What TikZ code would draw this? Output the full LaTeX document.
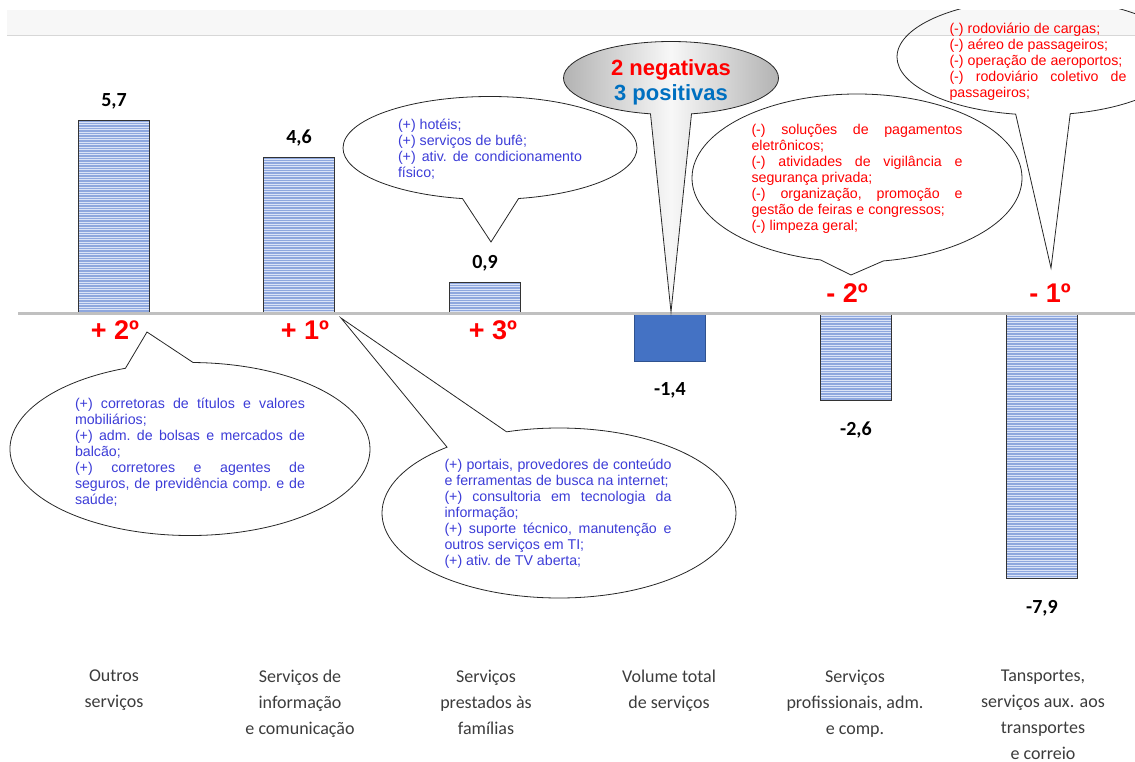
\documentclass[tikz,border=0pt]{standalone}
\usepackage{fontspec}
\setmainfont{Liberation Sans}
\newfontfamily\calibri{Carlito}
\usetikzlibrary{positioning,shapes.callouts}

\definecolor{barfill}{RGB}{142,167,222}
\definecolor{barline}{RGB}{218,227,247}
\definecolor{totalfill}{RGB}{68,114,196}
\definecolor{totaledge}{RGB}{47,82,143}
\definecolor{axisgray}{RGB}{192,192,192}
\definecolor{bandgray}{RGB}{247,247,247}
\definecolor{bandline}{RGB}{215,215,215}
\definecolor{txtblue}{RGB}{60,60,215}
\definecolor{posblue}{RGB}{0,112,192}
\definecolor{labelgray}{RGB}{60,60,60}

\begin{document}
\begin{tikzpicture}
      [x=1pt,y=-1pt,every node/.style={inner sep=2pt},
       bar/.style={draw=black!80,line width=0.7pt,minimum width=71pt,inner sep=0pt,fill=barfill,
         path picture={\foreach \k in {1.5,4,...,270}
           \draw[barline,line width=0.7pt]
             ([yshift=-\k pt]path picture bounding box.north west) --
             ([yshift=-\k pt]path picture bounding box.north east);}},
       totalbar/.style={draw=totaledge,line width=0.7pt,fill=totalfill,minimum width=71pt,inner sep=0pt},
       bubble/.style={ellipse callout,draw=black!85,line width=0.8pt,inner sep=0pt,
         outer sep=0pt,callout pointer arc=22}]

      \tikzstyle{val} = [font=\calibri\bfseries\fontsize{20}{24}\selectfont]
      \tikzstyle{rank} = [font=\bfseries\fontsize{27}{30}\selectfont,text=red]
      \tikzstyle{cat} = [anchor=north,align=center,text=labelgray,inner sep=1pt,
                         font=\calibri\fontsize{18}{26}\selectfont]
      \tikzstyle{note} = [align=justify,font=\fontsize{14.2}{16}\selectfont,
                          execute at begin node={\frenchspacing\tolerance=10000 \hyphenpenalty=10000 }]
      \tikzstyle{plus} = [note,text=txtblue]
      \tikzstyle{minus} = [note,text=red]

      \useasboundingbox (0,0) rectangle (1135,762);

      \fill[bandgray] (7,10) rectangle (1135,35);
      \draw[bandline] (7,35) -- (1135,35);

      \node[bar,anchor=south,minimum height=192pt] (outros)   at (114,313) {};
      \node[bar,anchor=south,minimum height=155pt] (info)     at (299,313) {};
      \node[bar,anchor=south,minimum height=30pt]  (familias) at (485,313) {};
      \node[totalbar,anchor=north,minimum height=48pt] (total) at (670,313) {};
      \node[bar,anchor=north,minimum height=87pt]  (prof)     at (856,313) {};
      \node[bar,anchor=north,minimum height=265pt] (transp)   at (1042,313) {};

      \coordinate (axisL) at (18,313);
      \coordinate (axisR) at (1135,313);
      \draw[axisgray,line width=3pt] (axisL) -- (axisR);

      \node[val,above=9pt of outros]   (v-outros)   {5,7};
      \node[val,above=9pt of info]     (v-info)     {4,6};
      \node[val,above=9pt of familias] (v-familias) {0,9};
      \node[val,below=19pt of total]   (v-total)    {-1,4};
      \node[val,below=19pt of prof]    (v-prof)     {-2,6};
      \node[val,below=19pt of transp]  (v-transp)   {-7,9};

      \node[rank] (r-outros)   at (115,330)  {+ 2º};
      \node[rank] (r-info)     at (305,330)  {+ 1º};
      \node[rank] (r-familias) at (493,330)  {+ 3º};
      \node[rank] (r-prof)     at (847,293)  {- 2º};
      \node[rank] (r-transp)   at (1050,293) {- 1º};

      \coordinate (tip-familias) at (491,242);
      \coordinate (tip-total)    at (671,312);
      \coordinate (tip-prof)     at (851,275);
      \coordinate (tip-transp)   at (1051,268);
      \coordinate (tip-outros)   at (147,332);
      \coordinate (tip-info)     at (341,318);

      \node[bubble,minimum width=294pt,minimum height=103pt,
            callout absolute pointer={(tip-familias)}] (b-familias) at (490,148) {};
      \node[bubble,minimum width=215pt,minimum height=73pt,
            left color=gray!60,right color=gray!60,middle color=gray!6,
            callout absolute pointer={(tip-total)}] (b-total) at (671,78) {};
      \node[bubble,minimum width=330pt,minimum height=168pt,
            callout absolute pointer={(tip-prof)}] (b-prof) at (857,178) {};
      \begin{scope}
        \clip (0,10) rectangle (1135,762);
        \node[bubble,minimum width=286pt,minimum height=116pt,
              callout absolute pointer={(tip-transp)}] (b-transp) at (1040,57) {};
      \end{scope}
      \node[bubble,minimum width=360pt,minimum height=173pt,
            callout absolute pointer={(tip-outros)}] (b-outros) at (190,449) {};
      \node[bubble,minimum width=354pt,minimum height=170pt,
            callout absolute pointer={(tip-info)}] (b-info) at (559,513) {};

      \node[plus,text width=184pt] (n-familias) at (490,149)
            {(+) hotéis;\\(+) serviços de bufê;\\(+) ativ. de condicionamento\linebreak físico;};
      \node[align=center,font=\bfseries\fontsize{22}{25}\selectfont] (n-total) at (671,82)
            {\textcolor{red}{2 negativas}\\\textcolor{posblue}{3 positivas}};
      \node[minus,text width=211pt] (n-prof) at (857,179)
            {(-) soluções de pagamentos\linebreak eletrônicos;\\(-) atividades de vigilância e\linebreak
             segurança privada;\\(-) organização, promoção e\linebreak gestão de feiras e congressos;\\(-) limpeza geral;};
      \node[minus,text width=177pt] (n-transp) at (1038,62)
            {(-) rodoviário de cargas;\\(-) aéreo de passageiros;\\(-) operação de aeroportos;\\(-) rodoviário coletivo de\linebreak passageiros;};
      \node[plus,text width=230pt] (n-outros) at (190,452)
            {(+) corretoras de títulos e valores\linebreak mobiliários;\\(+) adm. de bolsas e mercados de\linebreak
             balcão;\\(+) corretores e agentes de\linebreak seguros, de previdência comp. e de\linebreak saúde;};
      \node[plus,text width=227pt] (n-info) at (558,514)
            {(+) portais, provedores de conteúdo\linebreak e ferramentas de busca na internet;\\(+) consultoria em tecnologia da\linebreak
             informação;\\(+) suporte técnico, manutenção e\linebreak outros serviços em TI;\\(+) ativ. de TV aberta;};

      \node[cat] (c-outros)   at (114,669)  {Outros\\serviços};
      \node[cat] (c-info)     at (300,669)  {Serviços de\\informação\\e comunicação};
      \node[cat] (c-familias) at (486,669)  {Serviços\\prestados às\\famílias};
      \node[cat] (c-total)    at (669,669)  {Volume total\\de serviços};
      \node[cat] (c-prof)     at (855,669)  {Serviços\\profissionais, adm.\\e comp.};
      \node[cat] (c-transp)   at (1043,669) {Tansportes,\\serviços aux. aos\\transportes\\e correio};
    \end{tikzpicture}
\end{document}
